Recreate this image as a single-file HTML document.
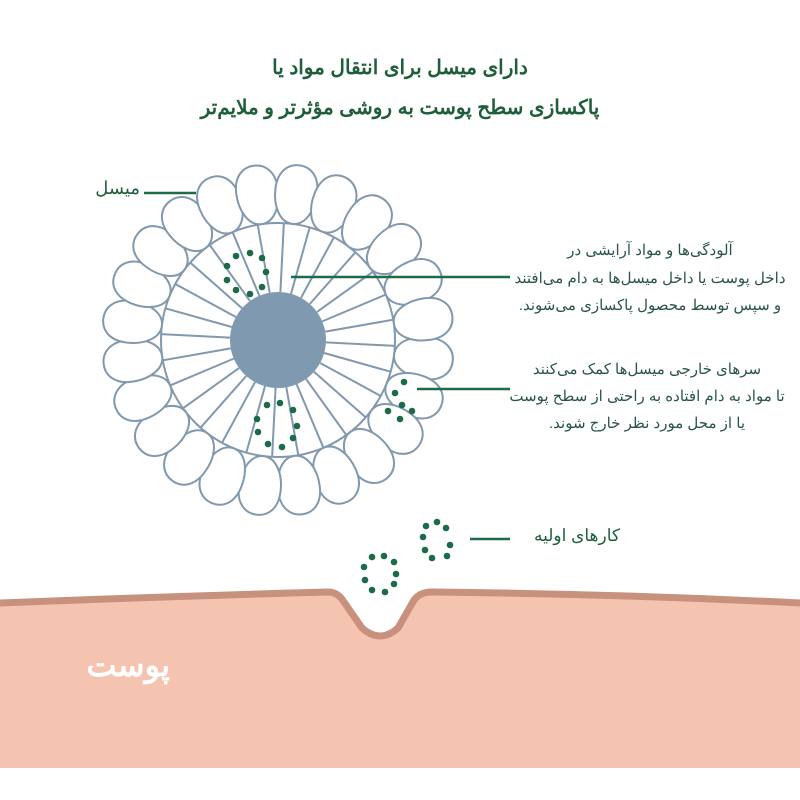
<!DOCTYPE html>
<html><head><meta charset="utf-8"><style>
html,body{margin:0;padding:0;background:#fff;}
body{width:800px;height:800px;position:relative;overflow:hidden;font-family:"Liberation Sans","Noto Sans CJK SC",sans-serif;}
.t{position:absolute;direction:rtl;color:#1f5e3a;white-space:nowrap;}
</style></head><body>
<svg width="800" height="800" style="position:absolute;left:0;top:0">
<path d="M0,603 Q180,596 328,592 Q338,592 344,602 L362,628 Q380,644 398,628 L414,600 Q420,592 432,592 Q620,594 800,603 L800,768 L0,768 Z" fill="#f5c4b0"/>
<path d="M0,603 Q180,596 328,592 Q338,592 344,602 L362,628 Q380,644 398,628 L414,600 Q420,592 432,592 Q620,594 800,603" fill="none" stroke="#c8917d" stroke-width="7"/>
<g id="mic" fill="none" stroke="#8198ad" stroke-width="2"></g>
<g fill="#1b6b48" id="dots"></g>
<g stroke="#1f6b48" stroke-width="2.5">
<line x1="144" y1="193" x2="196" y2="193"/>
<line x1="291" y1="277" x2="510" y2="277"/>
<line x1="417" y1="389" x2="510" y2="389"/>
<line x1="470" y1="539" x2="510" y2="539"/>
</g>
</svg>
<div class="t" style="left:150px;top:48px;width:500px;text-align:center;font-size:20px;font-weight:bold;line-height:40px;">دارای میسل برای انتقال مواد یا<br>پاکسازی سطح پوست به روشی مؤثرتر و ملایم‌تر</div>
<div class="t" style="left:60px;top:178px;width:80px;text-align:right;font-size:18px;">میسل</div>
<div class="t" style="left:500px;top:237px;width:300px;text-align:center;font-size:15px;line-height:27.5px;color:#2a5543;">آلودگی‌ها و مواد آرایشی در<br>داخل پوست یا داخل میسل‌ها به دام می‌افتند<br>و سپس توسط محصول پاکسازی می‌شوند.</div>
<div class="t" style="left:497px;top:356px;width:300px;text-align:center;font-size:15px;line-height:27px;color:#2a5543;">سرهای خارجی میسل‌ها کمک می‌کنند<br>تا مواد به دام افتاده به راحتی از سطح پوست<br>یا از محل مورد نظر خارج شوند.</div>
<div class="t" style="left:500px;top:526px;width:120px;text-align:right;font-size:17px;">کارهای اولیه</div>
<div class="t" style="left:50px;top:646px;width:120px;text-align:right;font-size:32px;font-weight:bold;color:#fff;">پوست</div>
<script>
var g=document.getElementById('mic'),cx=278,cy=340,h='';
for(var i=0;i<28;i++){var a=i/28*2*Math.PI+0.05;h+='<line x1="'+(cx+48*Math.cos(a))+'" y1="'+(cy+48*Math.sin(a))+'" x2="'+(cx+117*Math.cos(a))+'" y2="'+(cy+117*Math.sin(a))+'"/>';}
h+='<circle cx="'+cx+'" cy="'+cy+'" r="117"/>';
for(var i=0;i<24;i++){var d=i*15+7;h+='<path transform="translate('+cx+','+cy+') rotate('+d+')" fill="#fff" d="M117,0 C117,-13 133,-21 150,-21 C168,-21 176,-11 176,0 C176,11 168,21 150,21 C133,21 117,13 117,0 Z"/>';}
h+='<circle cx="'+cx+'" cy="'+cy+'" r="48" fill="#7f9ab0" stroke="none"/>';
g.innerHTML=h;
var d='',pts=[[236,256],[250,253],[262,258],[227,266],[266,272],[227,280],[236,290],[250,294],[262,287],[267,405],[280,403],[293,410],[257,419],[297,426],[258,432],[268,444],[282,447],[293,438],[404,382],[395,393],[402,405],[412,411],[388,411],[400,419],[437,522],[446,528],[426,526],[423,537],[450,545],[425,550],[432,558],[447,556],[372,557],[384,556],[394,562],[364,567],[396,574],[365,580],[372,590],[385,592],[394,584]];
pts.forEach(function(p){d+='<circle cx="'+p[0]+'" cy="'+p[1]+'" r="3.3"/>';});
document.getElementById('dots').innerHTML=d;
</script>
</body></html>
